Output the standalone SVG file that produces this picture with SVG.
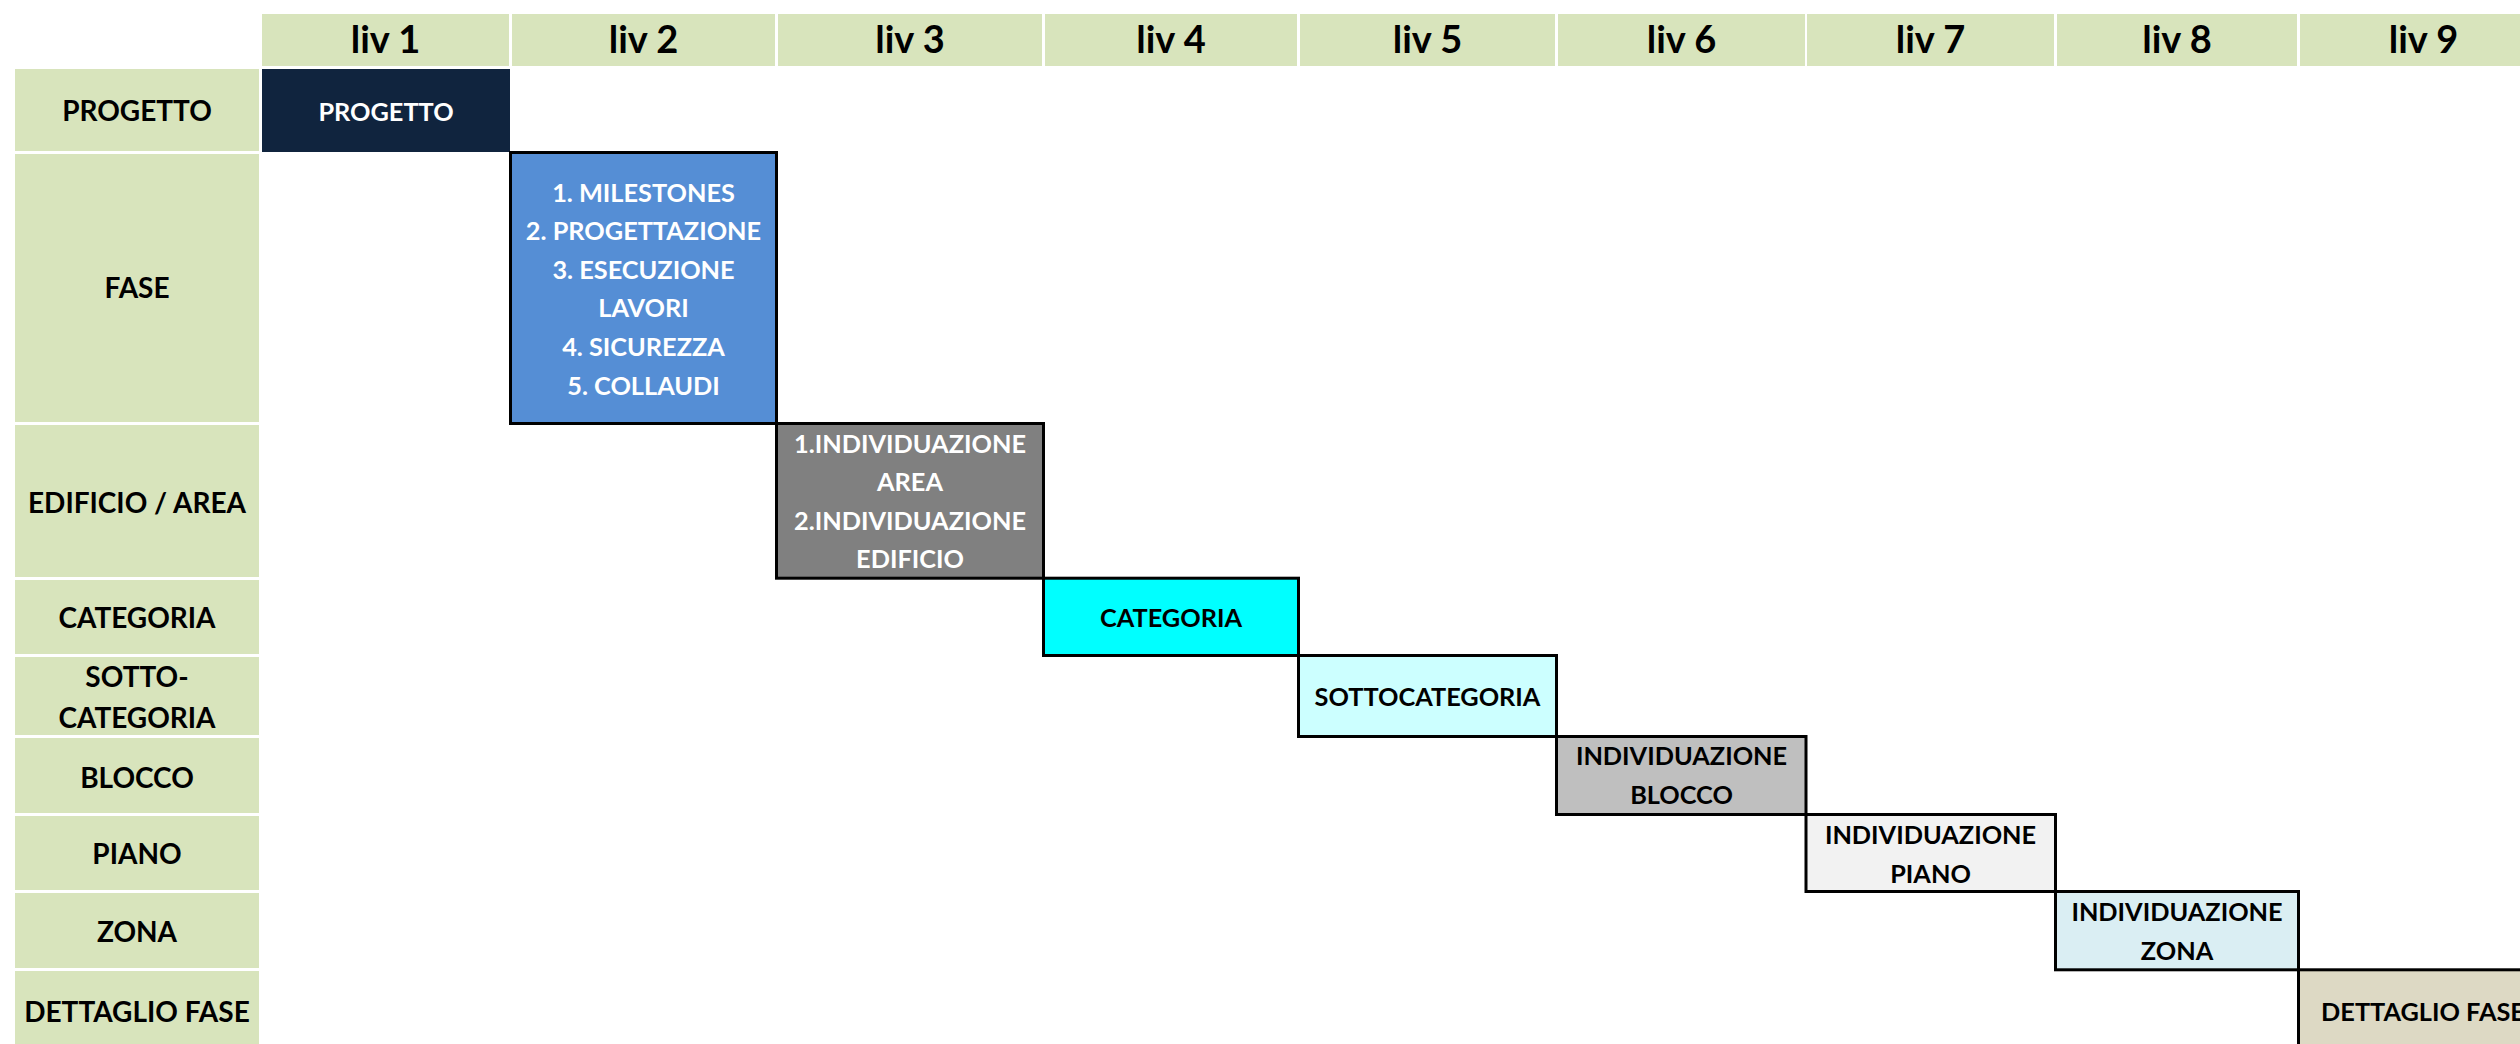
<svg xmlns="http://www.w3.org/2000/svg" width="2520" height="1044" viewBox="0 0 2520 1044">
<style>
text{font-family:Lato,"Liberation Sans",sans-serif;font-weight:700;text-anchor:middle}
.cell{fill:#D8E4BC}
.hd{font-size:38px;fill:#000}
.lb{font-size:28px;fill:#000}
.nd{font-size:25.3px;fill:#000}
.w{fill:#fff}
.box{stroke:#000;stroke-width:3}
</style>
<rect width="2520" height="1044" fill="#fff"/>
<g id="header">
<rect class="cell" x="262" y="14" width="247" height="52"/>
<rect class="cell" x="512" y="14" width="263" height="52"/>
<rect class="cell" x="778" y="14" width="264" height="52"/>
<rect class="cell" x="1045" y="14" width="252" height="52"/>
<rect class="cell" x="1300" y="14" width="255" height="52"/>
<rect class="cell" x="1558" y="14" width="247" height="52"/>
<rect class="cell" x="1807" y="14" width="247" height="52"/>
<rect class="cell" x="2057" y="14" width="240" height="52"/>
<rect class="cell" x="2300" y="14" width="240" height="52"/>
<text class="hd" x="385.5" y="52.5">liv 1</text>
<text class="hd" x="643.5" y="52.5">liv 2</text>
<text class="hd" x="910" y="52.5">liv 3</text>
<text class="hd" x="1171" y="52.5">liv 4</text>
<text class="hd" x="1427.5" y="52.5">liv 5</text>
<text class="hd" x="1681.5" y="52.5">liv 6</text>
<text class="hd" x="1930.5" y="52.5">liv 7</text>
<text class="hd" x="2177" y="52.5">liv 8</text>
<text class="hd" x="2423.5" y="52.5">liv 9</text>
</g>
<g id="row-labels">
<rect class="cell" x="15" y="69" width="244" height="82"/>
<rect class="cell" x="15" y="154" width="244" height="268"/>
<rect class="cell" x="15" y="425" width="244" height="152"/>
<rect class="cell" x="15" y="580" width="244" height="74"/>
<rect class="cell" x="15" y="657" width="244" height="78"/>
<rect class="cell" x="15" y="738" width="244" height="75"/>
<rect class="cell" x="15" y="816" width="244" height="74"/>
<rect class="cell" x="15" y="893" width="244" height="75"/>
<rect class="cell" x="15" y="971" width="244" height="80"/>
<text class="lb" x="137" y="120.7">PROGETTO</text>
<text class="lb" x="137" y="297.7">FASE</text>
<text class="lb" x="137" y="512.7">EDIFICIO / AREA</text>
<text class="lb" x="137" y="628.3">CATEGORIA</text>
<text class="lb" x="137" y="686.7">SOTTO-</text>
<text class="lb" x="137" y="728.3">CATEGORIA</text>
<text class="lb" x="137" y="787.7">BLOCCO</text>
<text class="lb" x="137" y="864">PIANO</text>
<text class="lb" x="137" y="942">ZONA</text>
<text class="lb" x="137" y="1021.7">DETTAGLIO FASE</text>
</g>
<g id="connectors"></g>
<g id="node-progetto">
<rect x="262" y="69" width="248" height="83" fill="#10243E"/>
<text class="nd w" x="386" y="120.7">PROGETTO</text>
</g>
<g id="node-fase">
<rect class="box" x="510.5" y="152.5" width="266" height="271" fill="#558ED5"/>
<text class="nd w" x="643.5" y="201.5">1. MILESTONES</text>
<text class="nd w" x="643.5" y="240.1">2. PROGETTAZIONE</text>
<text class="nd w" x="643.5" y="278.7">3. ESECUZIONE</text>
<text class="nd w" x="643.5" y="317.3">LAVORI</text>
<text class="nd w" x="643.5" y="355.9">4. SICUREZZA</text>
<text class="nd w" x="643.5" y="394.5">5. COLLAUDI</text>
</g>
<g id="node-edificio">
<rect class="box" x="776.5" y="423.5" width="267" height="154.7" fill="#808080"/>
<text class="nd w" x="910" y="452.7">1.INDIVIDUAZIONE</text>
<text class="nd w" x="910" y="491">AREA</text>
<text class="nd w" x="910" y="529.7">2.INDIVIDUAZIONE</text>
<text class="nd w" x="910" y="568.3">EDIFICIO</text>
</g>
<g id="node-categoria">
<rect class="box" x="1043.5" y="578.2" width="255" height="77.3" fill="#00FFFF"/>
<text class="nd" x="1171" y="626.7">CATEGORIA</text>
</g>
<g id="node-sottocategoria">
<rect class="box" x="1298.5" y="655.5" width="258" height="81" fill="#CCFFFF"/>
<text class="nd" x="1427.5" y="706">SOTTOCATEGORIA</text>
</g>
<g id="node-blocco">
<rect class="box" x="1556.5" y="736.5" width="249.5" height="78" fill="#BFBFBF"/>
<text class="nd" x="1681.5" y="765">INDIVIDUAZIONE</text>
<text class="nd" x="1681.5" y="804">BLOCCO</text>
</g>
<g id="node-piano">
<rect class="box" x="1806" y="814.5" width="249.5" height="77" fill="#F2F2F2"/>
<text class="nd" x="1930.5" y="844">INDIVIDUAZIONE</text>
<text class="nd" x="1930.5" y="882.7">PIANO</text>
</g>
<g id="node-zona">
<rect class="box" x="2055.5" y="891.5" width="243" height="78.3" fill="#DAEEF3"/>
<text class="nd" x="2177" y="920.7">INDIVIDUAZIONE</text>
<text class="nd" x="2177" y="960">ZONA</text>
</g>
<g id="node-dettaglio">
<rect class="box" x="2298.5" y="969.8" width="260" height="90" fill="#DDD9C4"/>
<text class="nd" x="2423" y="1021">DETTAGLIO FASE</text>
</g>
</svg>
